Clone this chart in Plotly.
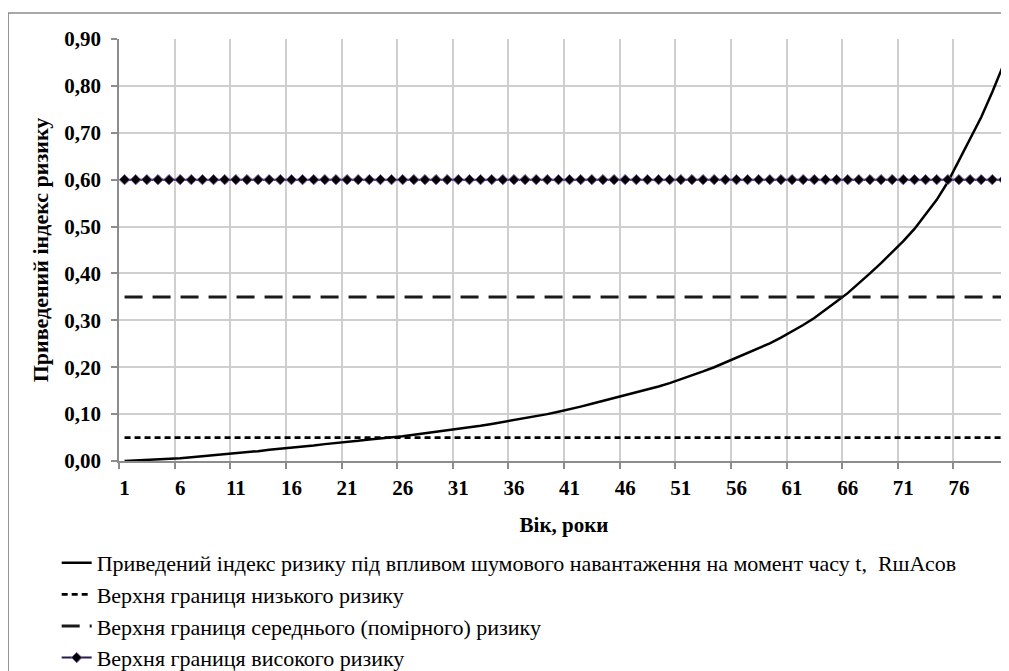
import plotly.graph_objects as go

ages = list(range(1, 81))
risk_index = [
    0.000, 0.001, 0.002, 0.003, 0.004, 0.006, 0.008, 0.010, 0.012, 0.014,
    0.017, 0.019, 0.021, 0.024, 0.026, 0.029, 0.031, 0.033, 0.036, 0.038,
    0.041, 0.043, 0.046, 0.048, 0.050, 0.053, 0.056, 0.059, 0.062, 0.065,
    0.068, 0.071, 0.075, 0.079, 0.083, 0.087, 0.091, 0.095, 0.100, 0.105,
    0.110, 0.116, 0.122, 0.128, 0.134, 0.140, 0.146, 0.152, 0.159, 0.166,
    0.174, 0.182, 0.191, 0.200, 0.210, 0.220, 0.230, 0.240, 0.251, 0.263,
    0.276, 0.290, 0.305, 0.322, 0.340, 0.358, 0.378, 0.400, 0.422, 0.445,
    0.469, 0.495, 0.525, 0.557, 0.595, 0.640, 0.685, 0.733, 0.787, 0.845,
]
low_limit = [0.05] * 80
mid_limit = [0.35] * 80
high_limit = [0.60] * 80

names = [
    "Приведений індекс ризику під впливом шумового навантаження на момент часу t,  RшАсов",
    "Верхня границя низького ризику",
    "Верхня границя середнього (помірного) ризику",
    "Верхня границя високого ризику",
]

FONT = "Liberation Serif"

fig = go.Figure()
fig.add_trace(go.Scatter(x=ages, y=risk_index, mode="lines", name=names[0],
                         line=dict(color="black", width=2.5), legendgroup="a"))
fig.add_trace(go.Scatter(x=ages, y=low_limit, mode="lines", name=names[1],
                         line=dict(color="black", width=2.8, dash="6px,4px"), legendgroup="b"))
fig.add_trace(go.Scatter(x=ages, y=mid_limit, mode="lines", name=names[2],
                         line=dict(color="#1a1a1a", width=3, dash="18px,10px"), legendgroup="c"))
fig.add_trace(go.Scatter(x=ages, y=high_limit, mode="lines+markers", name=names[3],
                         line=dict(color="#2a1a4a", width=2),
                         marker=dict(symbol="diamond", size=8, color="black",
                                     line=dict(color="#7a5aa8", width=1)),
                         legendgroup="d"))

# page body has an 8px margin; work in page pixels and convert
OFF = 8
W, H = 1009 - OFF, 671 - OFF
PLOT_L, PLOT_T, PLOT_B = 119.3, 39, 461   # page pixels
L = PLOT_L - OFF
T = PLOT_T - OFF
B = H - (PLOT_B - OFF)
R = 0
pw = W - L - R
ph = H - T - B

def px_to_paper_x(px):
    return (px - OFF - L) / pw

def py_to_paper_y(py):
    return (PLOT_B - py) / ph

fig.update_layout(
    width=W, height=H,
    margin=dict(l=L, r=R, t=T, b=B, pad=0, autoexpand=False),
    paper_bgcolor="white", plot_bgcolor="white",
    separators=", ",
    font=dict(family=FONT, color="black"),
    showlegend=True,
    legend=dict(
        x=px_to_paper_x(57), y=py_to_paper_y(542), xanchor="left", yanchor="top",
        font=dict(family=FONT, size=22, color="black"),
        tracegroupgap=0, bgcolor="rgba(0,0,0,0)",
    ),
    xaxis=dict(
        range=[0.5, 80.5], tickmode="linear", tick0=1, dtick=5,
        showgrid=False, ticks="", ticklen=0, ticklabelstandoff=7,
        tickfont=dict(family=FONT, size=21, color="black", weight="bold"),
        showline=True, linecolor="#8c8c8c", linewidth=1.5,
        zeroline=False, automargin=False,
        minor=dict(tick0=0.5, dtick=5, showgrid=True, gridcolor="#cfcfcf", gridwidth=1.5,
                   ticks="outside", ticklen=6, tickcolor="#8c8c8c", tickwidth=1.5),
        title=dict(text="<b>Вік, роки</b>", font=dict(family=FONT, size=21, color="black"), standoff=18),
    ),
    yaxis=dict(
        range=[0, 0.9], tickmode="linear", tick0=0, dtick=0.1, tickformat=".2f",
        showgrid=True, gridcolor="#cfcfcf", gridwidth=1.5,
        ticks="outside", ticklen=6, tickcolor="#8c8c8c", tickwidth=1.5,
        ticklabelstandoff=6,
        tickfont=dict(family=FONT, size=21, color="black", weight="bold"),
        showline=True, linecolor="#8c8c8c", linewidth=1.5,
        zeroline=False, automargin=False,
        title=dict(text="<b>Приведений індекс ризику</b>", font=dict(family=FONT, size=22, color="black"), standoff=10),
    ),
    shapes=[dict(type="rect", xref="paper", yref="paper",
                 x0=px_to_paper_x(8.5), x1=px_to_paper_x(1040),
                 y0=py_to_paper_y(720), y1=py_to_paper_y(13),
                 line=dict(color="#8c8c8c", width=1.5), fillcolor="rgba(0,0,0,0)", layer="below")],
)

fig.write_html("out.html")
